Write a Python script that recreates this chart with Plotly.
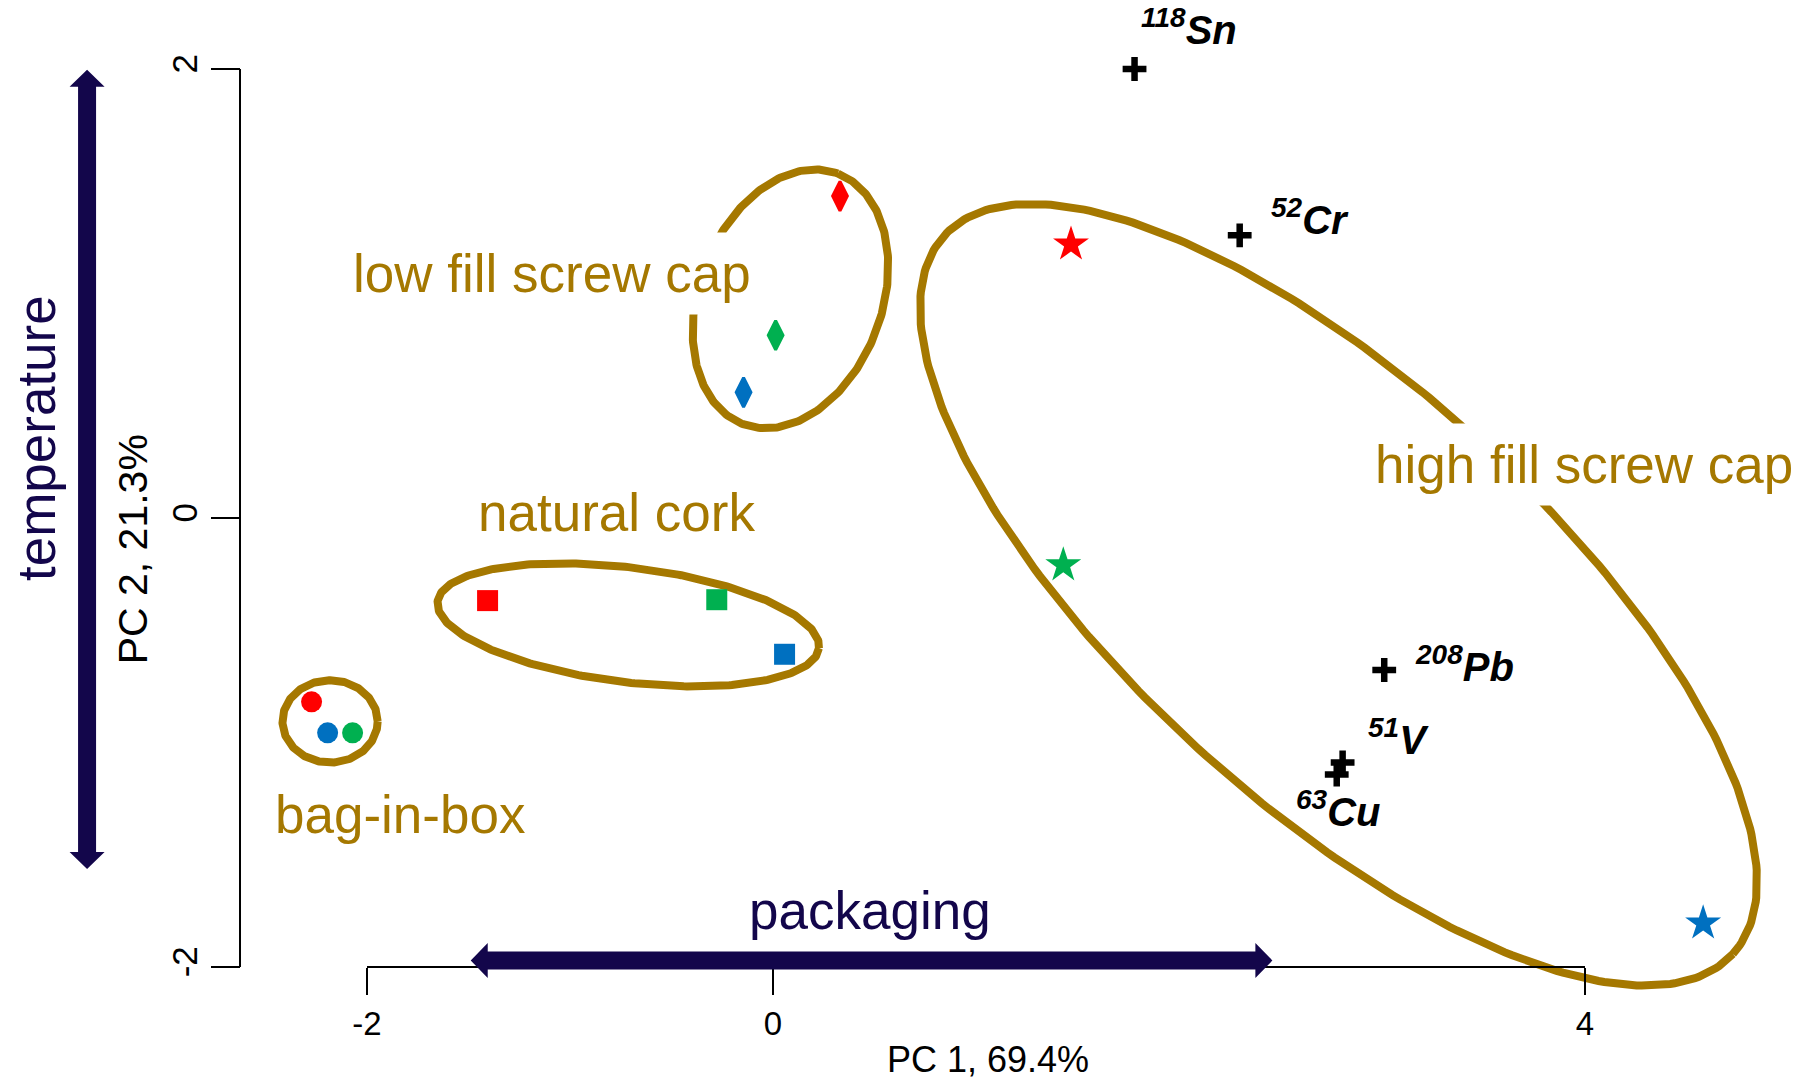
import numpy as np
import plotly.graph_objects as go

# ---- sample scores on PC1 / PC2 (one colour per storage temperature) ----
RED, GREEN, BLUE = "#FF0000", "#00B050", "#0070C0"

bib_pc1 = [-2.273, -2.194, -2.071]
bib_pc2 = [-0.819, -0.957, -0.957]
bib_col = [RED, BLUE, GREEN]

cork_pc1 = [-1.406, -0.277, 0.057]
cork_pc2 = [-0.368, -0.364, -0.607]
cork_col = [RED, GREEN, BLUE]

low_pc1 = [0.330, 0.013, -0.145]
low_pc2 = [1.434, 0.814, 0.560]
low_col = [RED, GREEN, BLUE]

high_pc1 = [1.468, 1.430, 4.582]
high_pc2 = [1.219, -0.210, -1.805]
high_col = [RED, GREEN, BLUE]

# ---- element loadings ----
elem_names = ["<sup>118</sup>Sn", "<sup>52</sup>Cr", "<sup>208</sup>Pb",
              "<sup>51</sup>V", "<sup>63</sup>Cu"]
elem_pc1 = [1.781, 2.299, 3.011, 2.806, 2.777]
elem_pc2 = [2.000, 1.259, -0.677, -1.089, -1.143]

# ---- tick labels ----
x_ticks = [-2, 0, 4]
y_ticks = [-2, 0, 2]

# ---- layout constants ----
W, H = 1810, 1081
X_RANGE = [-3.8079, 5.1084]
Y_RANGE = [-2.5078, 2.3073]
GOLD = "#A57800"
NAVY = "#13064B"
FONT = "Liberation Sans, Arial, sans-serif"

# group outlines: centre plus two conjugate semi-axis vectors (data units)
group_outlines = [
    ((-2.182, -0.906), (0.2345, 0.0), (0.0, 0.1835)),          # bag-in-box
    ((-0.713, -0.476), (0.9393, -0.1040), (-0.0344, -0.2538)),  # natural cork
    ((0.086, 0.976), (0.2333, 0.5582), (0.4216, -0.1441)),      # low fill
    ((2.786, -0.342), (1.9424, -1.6000), (-0.6910, -0.6860)),   # high fill
]

# group captions: text, centre x, middle y
group_labels = [
    ("bag-in-box", -1.838, -1.322),
    ("natural cork", -0.769, 0.025),
    ("low fill screw cap", -1.089, 1.090),
    ("high fill screw cap", 3.993, 0.237),
]
boxed_labels = {"low fill screw cap", "high fill screw cap"}

# element caption anchors (left x, middle y)
elem_label_pos = [(1.803, 2.187), (2.443, 1.341), (3.153, -0.650),
                  (2.921, -0.976), (2.567, -1.295)]

fig = go.Figure()

# outlines of the packaging groups
t = np.linspace(0, 2 * np.pi, 361)
for (cx, cy), (ux, uy), (vx, vy) in group_outlines:
    fig.add_trace(go.Scatter(
        x=cx + ux * np.cos(t) + vx * np.sin(t),
        y=cy + uy * np.cos(t) + vy * np.sin(t),
        mode="lines", line=dict(color=GOLD, width=8),
        hoverinfo="skip"))

# sample scores
fig.add_trace(go.Scatter(x=bib_pc1, y=bib_pc2, mode="markers",
                         marker=dict(symbol="circle", size=21, color=bib_col)))
fig.add_trace(go.Scatter(x=cork_pc1, y=cork_pc2, mode="markers",
                         marker=dict(symbol="square", size=21, color=cork_col)))
fig.add_trace(go.Scatter(x=low_pc1, y=low_pc2, mode="markers",
                         marker=dict(symbol="diamond-tall", size=21, color=low_col,
                                     line=dict(color=low_col, width=3))))
fig.add_trace(go.Scatter(x=high_pc1, y=high_pc2, mode="markers",
                         marker=dict(symbol="star", size=27, color=high_col)))

# loadings
fig.add_trace(go.Scatter(x=elem_pc1, y=elem_pc2, mode="markers",
                         marker=dict(symbol="cross-thin", size=17, color="black",
                                     line=dict(color="black", width=6.5))))

annotations = []
for txt, (lx, ly) in zip(elem_names, elem_label_pos):
    annotations.append(dict(
        x=lx, y=ly, xref="x", yref="y", text=txt, showarrow=False,
        xanchor="left", yanchor="middle",
        font=dict(family=FONT, size=40, color="black", weight="bold", style="italic")))

for txt, lx, ly in group_labels:
    a = dict(x=lx, y=ly, xref="x", yref="y", text=txt, showarrow=False,
             xanchor="center", yanchor="middle",
             font=dict(family=FONT, size=53, color=GOLD))
    if txt in boxed_labels:
        a.update(bgcolor="white", borderpad=11)
    annotations.append(a)

# direction captions and axis titles
annotations += [
    dict(x=0.476, y=-1.748, xref="x", yref="y", text="packaging", showarrow=False,
         font=dict(family=FONT, size=53, color=NAVY)),
    dict(x=-3.628, y=0.354, xref="x", yref="y", text="temperature", showarrow=False,
         textangle=-90, font=dict(family=FONT, size=53, color=NAVY)),
    dict(x=-3.152, y=-0.139, xref="x", yref="y", text="PC 2, 21.3%", showarrow=False,
         textangle=-90, font=dict(family=FONT, size=41, color="black")),
    dict(x=1.059, y=-2.412, xref="x", yref="y", text="PC 1, 69.4%", showarrow=False,
         font=dict(family=FONT, size=36, color="black")),
]

# double-headed arrows (pixel geometry converted to data units)
sx = W / (X_RANGE[1] - X_RANGE[0])
sy = H / (Y_RANGE[1] - Y_RANGE[0])
SHAFT, HEAD_W, HEAD_L = 9.0, 17.5, 17.0


def h_arrow(x0, x1, y):
    s, hw, hl = SHAFT / sy, HEAD_W / sy, HEAD_L / sx
    pts = [(x0, y), (x0 + hl, y + hw), (x0 + hl, y + s), (x1 - hl, y + s),
           (x1 - hl, y + hw), (x1, y), (x1 - hl, y - hw), (x1 - hl, y - s),
           (x0 + hl, y - s), (x0 + hl, y - hw)]
    return "M" + " L".join(f"{a},{b}" for a, b in pts) + " Z"


def v_arrow(x, y0, y1):
    s, hw, hl = SHAFT / sx, HEAD_W / sx, HEAD_L / sy
    pts = [(x, y0), (x + hw, y0 - hl), (x + s, y0 - hl), (x + s, y1 + hl),
           (x + hw, y1 + hl), (x, y1), (x - hw, y1 + hl), (x - s, y1 + hl),
           (x - s, y0 - hl), (x - hw, y0 - hl)]
    return "M" + " L".join(f"{a},{b}" for a, b in pts) + " Z"


x_axis_pos = 0.10546
y_axis_pos = 0.13260
shapes = [
    dict(type="line", xref="x", yref="paper", x0=-2, x1=4, y0=x_axis_pos, y1=x_axis_pos,
         line=dict(color="black", width=2)),
    dict(type="line", xref="paper", yref="y", x0=y_axis_pos, x1=y_axis_pos, y0=-2, y1=2,
         line=dict(color="black", width=2)),
    dict(type="path", xref="x", yref="y", path=h_arrow(-1.489, 2.460, -1.971),
         fillcolor=NAVY, line=dict(width=0)),
    dict(type="path", xref="x", yref="y", path=v_arrow(-3.379, 1.997, -1.563),
         fillcolor=NAVY, line=dict(width=0)),
]

fig.update_layout(
    width=W, height=H, margin=dict(l=0, r=0, t=0, b=0),
    paper_bgcolor="white", plot_bgcolor="white", showlegend=False,
    font=dict(family=FONT, color="black"),
    annotations=annotations, shapes=shapes,
    xaxis=dict(range=X_RANGE, anchor="free", position=x_axis_pos,
               showgrid=False, zeroline=False, showline=False,
               ticks="outside", ticklen=27, tickwidth=2, tickcolor="black",
               tickvals=x_ticks, ticktext=[str(v) for v in x_ticks],
               tickfont=dict(family=FONT, size=33, color="black")),
    yaxis=dict(range=Y_RANGE, anchor="free", position=y_axis_pos,
               showgrid=False, zeroline=False, showline=False,
               ticks="outside", ticklen=29, tickwidth=2, tickcolor="black",
               tickvals=y_ticks, ticktext=[str(v) for v in y_ticks], tickangle=-90,
               tickfont=dict(family=FONT, size=35, color="black")),
)

fig.write_html("out.html")
